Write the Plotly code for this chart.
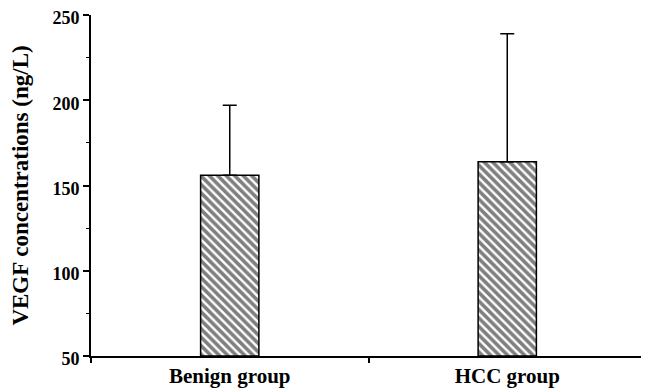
import plotly.graph_objects as go

categories = ["Benign group", "HCC group"]
means = [156, 164]
sd_upper = [41, 75]
y_ticks = [50, 100, 150, 200, 250]

FONT = "Liberation Serif"

fig = go.Figure()
fig.add_trace(go.Bar(
    x=categories,
    y=[m - 50 for m in means],
    base=50,
    width=0.21,
    marker=dict(
        color="white",
        line=dict(color="black", width=1.5),
        pattern=dict(shape="\\", fgcolor="black", bgcolor="white", size=6, solidity=0.6),
    ),
    error_y=dict(type="data", symmetric=False, array=sd_upper, arrayminus=[0, 0],
                 color="black", thickness=1.5, width=7),
    showlegend=False,
))

# page body has an 8px margin, so the figure is sized/offset to compensate
fig.update_layout(
    width=641, height=382,
    margin=dict(l=83, r=3, t=7, b=34, autoexpand=False),
    paper_bgcolor="white", plot_bgcolor="white",
    font=dict(family=FONT, color="black"),
    bargap=0.5,
)
fig.update_xaxes(
    type="category", range=[-0.5, 1.5], automargin=False,
    showline=True, linecolor="black", linewidth=2,
    ticks="outside", tickson="boundaries", ticklen=5, tickwidth=2, tickcolor="black",
    showgrid=False, zeroline=False,
    tickfont=dict(family=FONT, size=21, color="black", weight="bold"),
)
fig.update_yaxes(
    range=[50, 250.001], tickvals=y_ticks, ticktext=[str(v) for v in y_ticks],
    automargin=False, ticklabeloverflow="allow", ticklabelshift=3,
    showline=True, linecolor="black", linewidth=2,
    ticks="outside", ticklen=6, tickwidth=2, tickcolor="black",
    minor=dict(dtick=25, ticks="outside", ticklen=3, tickwidth=1, tickcolor="black", tick0=50),
    showgrid=False, zeroline=False,
    tickfont=dict(family=FONT, size=18, color="black", weight="bold"),
    title=dict(text="VEGF concentrations (ng/L)", standoff=20,
               font=dict(family=FONT, size=23, color="black", weight="bold")),
)

fig.write_html("out.html")
